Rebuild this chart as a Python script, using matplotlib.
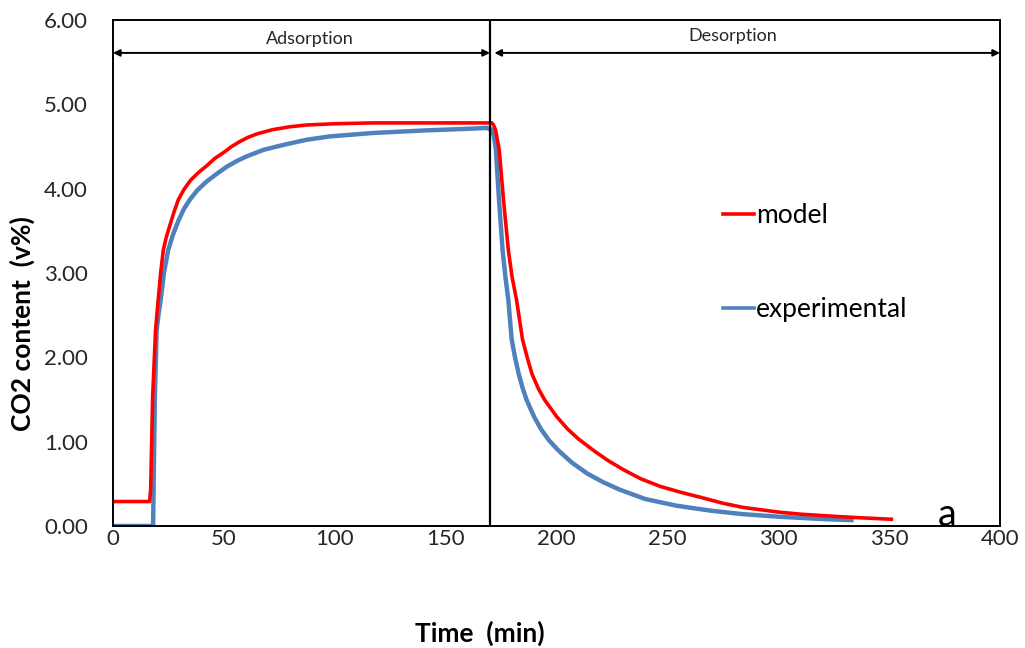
import matplotlib
matplotlib.use("Agg")
import matplotlib.pyplot as plt
from matplotlib.lines import Line2D

plt.rcParams['font.family'] = ['Lato', 'DejaVu Sans']

# model curve (time in min, CO2 in v%)
model_t = [0, 16.5, 17.0, 17.9, 19.2, 20.4, 21.5, 22.7, 24, 25.5, 27.5, 29.5, 32, 35, 38.5,
           42.2, 46, 50, 53.5, 57.3, 61, 65, 72, 80, 87.3, 100, 117, 140, 170,
           170.8, 171.5, 172.5, 174.2, 176, 178.3, 180, 182, 184.7, 187, 189, 192, 194.8,
           200, 205, 210, 216.5, 223, 230, 238, 246.7, 256, 265, 275, 284.2, 300, 310,
           321.8, 335, 351]
model_v = [0.29, 0.29, 0.43, 1.53, 2.32, 2.68, 3.0, 3.27, 3.42, 3.55, 3.72, 3.87, 3.99, 4.10, 4.19,
           4.27, 4.36, 4.43, 4.50, 4.56, 4.61, 4.65, 4.70, 4.735, 4.755, 4.77, 4.78, 4.78, 4.78,
           4.78, 4.76, 4.70, 4.46, 3.9, 3.27, 2.95, 2.68, 2.21, 1.98, 1.80, 1.62, 1.49,
           1.30, 1.15, 1.03, 0.90, 0.78, 0.67, 0.56, 0.47, 0.40, 0.34, 0.27, 0.22, 0.165, 0.14,
           0.12, 0.10, 0.08]

# experimental curve
exp_t = [0, 18.1, 18.4, 18.9, 19.7, 20.5, 21.5, 23, 24.9, 27, 29.5, 32, 34.7, 38, 42, 46.5,
         51.3, 56, 60, 67.8, 77, 87.3, 97.9, 117, 140, 160, 168.5,
         170.8, 171.8, 172.7, 174, 175.7, 177, 178.3, 179.8, 181.3, 183, 184.8, 186.6, 190,
         193, 196.5, 200.7, 207, 214, 221, 228.6, 240, 254.2, 270, 284.2, 300, 321.8, 333]
exp_v = [0, 0, 0.6, 1.53, 2.32, 2.5, 2.68, 3.0, 3.27, 3.45, 3.62, 3.76, 3.87, 3.98, 4.08, 4.17,
         4.26, 4.33, 4.38, 4.46, 4.52, 4.58, 4.62, 4.66, 4.69, 4.71, 4.72,
         4.70, 4.62, 4.46, 3.9, 3.27, 2.95, 2.68, 2.21, 2.0, 1.80, 1.63, 1.49, 1.29,
         1.15, 1.02, 0.90, 0.75, 0.62, 0.52, 0.43, 0.32, 0.24, 0.18, 0.14, 0.11, 0.08, 0.07]

switch_t = 170
x_ticks = [0, 50, 100, 150, 200, 250, 300, 350, 400]
y_ticks = [0, 1, 2, 3, 4, 5, 6]

fig = plt.figure(figsize=(10.25, 6.48), dpi=100)
ax = fig.add_axes([0.1102, 0.1883, 0.8654, 0.7808])

ax.plot(exp_t, exp_v, color="#4F81BD", lw=3.2, solid_joinstyle="round")
ax.plot(model_t, model_v, color="#FF0000", lw=2.6, solid_joinstyle="round")

ax.axvline(switch_t, color="black", lw=1.6)

# phase arrows
arrow_y = 5.61
ax.annotate("", xy=(0, arrow_y), xytext=(switch_t, arrow_y),
            arrowprops=dict(arrowstyle="<|-|>", color="black", lw=1.4, mutation_scale=10,
                            shrinkA=0, shrinkB=0))
ax.annotate("", xy=(switch_t + 2, arrow_y), xytext=(400, arrow_y),
            arrowprops=dict(arrowstyle="<|-|>", color="black", lw=1.4, mutation_scale=10,
                            shrinkA=0, shrinkB=0))
ax.text(88.8, 5.77, "Adsorption", ha="center", va="center", fontsize=13, color="#262626")
ax.text(279.6, 5.81, "Desorption", ha="center", va="center", fontsize=13, color="#262626")

ax.text(372, 0.0, "a", fontsize=27, ha="left", va="baseline")

ax.set_xlim(0, 400)
ax.set_ylim(0, 6)
ax.set_xticks(x_ticks)
ax.set_yticks(y_ticks)
ax.set_yticklabels([f"{v:.2f}" for v in y_ticks])
ax.tick_params(length=0, labelsize=16, colors="#262626")
ax.tick_params(axis="y", pad=18)
ax.tick_params(axis="x", pad=2)
for s in ax.spines.values():
    s.set_linewidth(1.4)
    s.set_color("black")

ax.set_xlabel("Time  (min)", fontsize=19, fontweight="bold")
ax.xaxis.set_label_coords(0.414, -0.187)
ax.set_ylabel("CO2 content  (v%)", fontsize=19, fontweight="bold")
ax.yaxis.set_label_coords(-0.088, 0.401)

handles = [Line2D([], [], color="#FF0000", lw=2.6), Line2D([], [], color="#4F81BD", lw=2.6)]
ax.legend(handles, ["model", "experimental"], loc="upper left", bbox_to_anchor=(0.688, 0.638),
          frameon=False, fontsize=19, handlelength=1.15, handletextpad=0.1, labelspacing=2.62,
          borderaxespad=0, borderpad=0)

fig.savefig("out.png", dpi=100)
